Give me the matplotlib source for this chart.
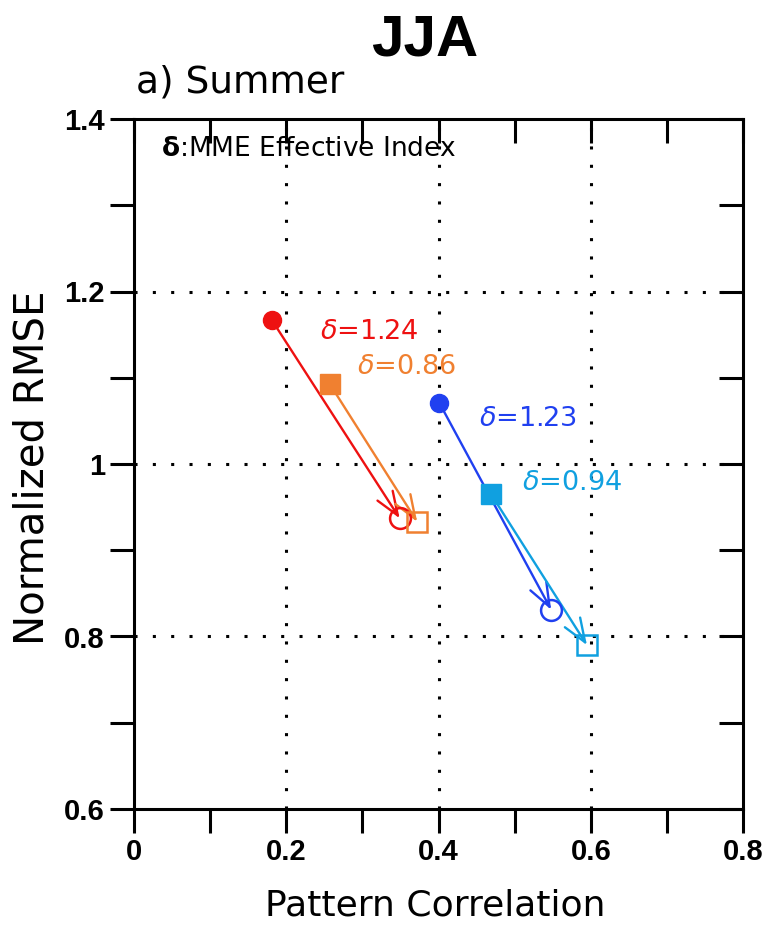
import matplotlib
matplotlib.use("Agg")
import matplotlib.pyplot as plt

# experiment pairs: single-model start (filled) -> MME result (open)
colors = ["#ee1111", "#f08030", "#2040f0", "#10a0e0"]
markers = ["o", "s", "o", "s"]
corr_start = [0.181, 0.257, 0.401, 0.469]
rmse_start = [1.167, 1.093, 1.071, 0.965]
corr_end = [0.349, 0.372, 0.548, 0.595]
rmse_end = [0.937, 0.933, 0.831, 0.790]
delta_vals = [1.24, 0.86, 1.23, 0.94]
label_x = [0.244, 0.293, 0.453, 0.510]
label_y = [1.153, 1.112, 1.052, 0.978]

fig = plt.figure(figsize=(7.72, 9.25), dpi=100)
ax = fig.add_axes([134 / 772, 1 - 809 / 925, 609 / 772, 690 / 925])

ax.set_xlim(0, 0.8)
ax.set_ylim(0.6, 1.4)

for i in range(4):
    c = colors[i]
    ax.annotate("", xy=(corr_end[i], rmse_end[i]), xytext=(corr_start[i], rmse_start[i]),
                arrowprops=dict(arrowstyle="->,head_length=1.7,head_width=0.65",
                                color=c, lw=1.7, shrinkA=0, shrinkB=0), zorder=3)
    ax.plot(corr_start[i], rmse_start[i], marker=markers[i], color=c,
            markersize=13 if markers[i] == "o" else 14, linestyle="none", zorder=4)
    ax.plot(corr_end[i], rmse_end[i], marker=markers[i], markerfacecolor="none",
            markeredgecolor=c, markeredgewidth=1.8, markersize=15, linestyle="none", zorder=4)
    ax.text(label_x[i], label_y[i], r"$\mathit{\delta}$=" + f"{delta_vals[i]:.2f}",
            color=c, fontsize=19.5, va="center", ha="left")

# dotted grid at the labelled values only
for gx in [0.2, 0.4, 0.6]:
    ax.axvline(gx, color="black", linestyle=(0, (1, 5)), lw=2.2, zorder=1)
for gy in [0.8, 1.0, 1.2]:
    ax.axhline(gy, color="black", linestyle=(0, (1, 5)), lw=2.2, zorder=1)

ax.set_xticks([0, 0.1, 0.2, 0.3, 0.4, 0.5, 0.6, 0.7, 0.8])
ax.set_xticklabels(["0", "", "0.2", "", "0.4", "", "0.6", "", "0.8"])
ax.set_yticks([0.6, 0.7, 0.8, 0.9, 1.0, 1.1, 1.2, 1.3, 1.4])
ax.set_yticklabels(["0.6", "", "0.8", "", "1", "", "1.2", "", "1.4"])
ax.tick_params(axis="both", which="major", length=17, width=2.2, labelsize=21,
               direction="out", pad=4)
ax.tick_params(top=True, right=True)
for lab in ax.get_xticklabels() + ax.get_yticklabels():
    lab.set_fontweight("bold")
    lab.set_family("Liberation Sans")

# ticks outside on left/bottom, inside on top/right
for t in ax.xaxis.get_major_ticks():
    t.tick2line.set_marker(3)
    t.tick2line.set_markersize(17)
for t in ax.yaxis.get_major_ticks():
    t.tick2line.set_marker(0)
    t.tick2line.set_markersize(17)
    t.tick2line.set_markeredgewidth(2.2)

for s in ax.spines.values():
    s.set_linewidth(2.2)

fig.text(435 / 772, 1 - 905 / 925, "Pattern Correlation", fontsize=26,
         ha="center", va="center")
fig.text(33 / 772, 1 - 468 / 925, "Normalized RMSE", fontsize=29, rotation=90,
         ha="center", va="center")

ax.text(0.035, 1.365, r"$\mathbf{\delta}$:MME Effective Index", fontsize=19, va="center")

fig.text(425 / 772, 1 - 40 / 925, "JJA", fontsize=42, fontweight="bold",
         family="Liberation Sans", ha="center", va="center")
fig.text(136 / 772, 1 - 82 / 925, "a) Summer", fontsize=27, ha="left", va="center")

fig.savefig("out.png", dpi=100)
